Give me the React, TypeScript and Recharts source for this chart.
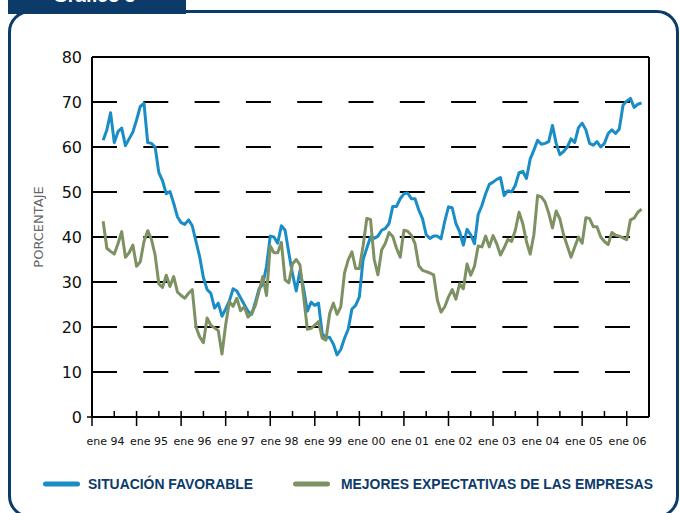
import { CartesianGrid, Label, Line, LineChart, ReferenceLine, XAxis, YAxis } from "recharts";

// monthly series, first point = abril 1994 (month index 3, counting from ene 94 = 0)
const START_MONTH = 3;

const favorable = [
  61.5, 63.8, 67.6, 61.0, 63.4, 64.2, 60.3, 61.8, 63.3, 66.0,
  69.0, 69.7, 61.0, 60.8, 60.0, 54.3, 52.5, 49.6, 50.1, 47.5,
  44.5, 43.2, 42.8, 43.8, 42.5, 39.0, 35.6, 31.0, 28.3, 27.5,
  24.2, 25.3, 22.4, 24.0, 25.8, 28.5, 28.0, 26.5, 25.0, 23.5,
  22.8, 25.5, 28.5, 29.5, 33.5, 40.2, 40.0, 38.6, 42.5, 41.5,
  36.5, 31.8, 28.0, 32.5, 28.5, 23.5, 25.5, 24.8, 25.3, 18.5,
  17.6, 17.7, 16.2, 13.8, 15.0, 17.5, 19.5, 24.0, 24.8, 26.7,
  35.0, 37.5, 40.0, 39.7, 40.2, 41.5, 41.9, 43.0, 46.8, 46.8,
  48.5, 49.6, 49.8, 48.5, 48.5, 46.0, 44.1, 40.5, 39.7, 40.2,
  40.2, 39.6, 43.5, 46.7, 46.5, 43.0, 41.2, 38.2, 41.7, 40.5,
  38.5, 45.0, 47.0, 49.6, 51.7, 52.2, 52.8, 53.2, 49.2, 50.3,
  50.0, 51.5, 54.3, 54.6, 53.0, 57.3, 59.3, 61.5, 60.6, 60.8,
  61.2, 64.8, 60.8, 58.3, 59.0, 60.0, 61.8, 61.0, 64.3, 65.3,
  63.8, 60.8, 60.4, 61.2, 60.0, 60.8, 63.0, 63.8, 63.0, 64.0,
  69.3, 70.2, 70.8, 68.8, 69.5, 69.8,
];

const expectativas = [
  43.5, 37.5, 36.8, 36.2, 38.5, 41.2, 35.5, 36.5, 38.2, 33.5,
  34.5, 39.0, 41.4, 39.5, 36.0, 29.6, 28.8, 31.5, 29.0, 31.2,
  27.8, 27.0, 26.4, 27.5, 28.3, 20.0, 17.8, 16.5, 22.0, 20.4,
  19.8, 19.2, 14.0, 20.5, 25.6, 24.6, 26.4, 23.6, 24.5, 22.2,
  23.0, 24.8, 28.0, 31.2, 27.0, 38.0, 36.5, 36.5, 38.8, 30.5,
  29.8, 34.0, 35.0, 33.8, 26.7, 19.5, 19.7, 20.4, 21.2, 17.5,
  17.1, 23.0, 25.3, 22.8, 24.5, 32.0, 34.9, 36.7, 33.0, 33.0,
  38.0, 44.1, 43.9, 35.0, 31.6, 37.1, 38.6, 41.0, 40.1, 37.5,
  35.5, 41.5, 41.3, 40.4, 38.5, 33.6, 32.6, 32.3, 32.0, 31.6,
  26.0, 23.3, 24.5, 26.7, 28.3, 26.2, 29.6, 28.5, 34.0, 31.5,
  33.5, 38.0, 37.8, 40.2, 37.8, 40.3, 38.5, 36.0, 37.6, 39.5,
  39.0, 41.5, 45.5, 43.0, 39.0, 36.2, 40.5, 49.2, 48.9, 47.8,
  45.3, 42.0, 45.8, 44.0, 40.5, 38.0, 35.5, 37.8, 40.0, 38.6,
  44.3, 44.1, 42.3, 42.3, 40.0, 39.0, 38.3, 41.0, 40.4, 40.2,
  39.8, 39.4, 43.8, 44.2, 45.5, 46.2,
];

const yearLabels = [
  "ene 94", "ene 95", "ene 96", "ene 97", "ene 98", "ene 99", "ene 00",
  "ene 01", "ene 02", "ene 03", "ene 04", "ene 05", "ene 06",
];

const yTicks = [0, 10, 20, 30, 40, 50, 60, 70, 80];

const series = [
  { key: "favorable", label: "SITUACIÓN FAVORABLE", color: "#1a8dc7" },
  { key: "expectativas", label: "MEJORES EXPECTATIVAS DE LAS EMPRESAS", color: "#7e9163" },
];

const NAVY = "#0c3b6a";

const data = favorable.map((v, i) => ({
  m: START_MONTH + i,
  favorable: v,
  expectativas: expectativas[i],
}));

// a tick every half year, labelled on the january ones
const xTicks = yearLabels.flatMap((_, i) => (i < yearLabels.length - 1 ? [i * 12, i * 12 + 6] : [i * 12]));

function MonthTick({ x, y, payload }: any) {
  const m = payload.value as number;
  if (m % 12 !== 0) {
    return <line x1={x} x2={x} y1={y - 6} y2={y} stroke="#000" strokeWidth={1.5} />;
  }
  const i = m / 12;
  return (
    <g>
      <line x1={x} x2={x} y1={y - 6} y2={y + 9} stroke="#000" strokeWidth={1.5} />
      <text
        x={x + 13.5 - 1.05 * i}
        y={y + 28}
        textAnchor="middle"
        fontFamily="DejaVu Sans"
        fontSize={11}
        fill="#111"
      >
        {yearLabels[i]}
      </text>
    </g>
  );
}

function ValueTick({ x, y, payload }: any) {
  return (
    <g>
      {payload.value === 0 && <line x1={x - 5} x2={x} y1={y} y2={y} stroke="#000" strokeWidth={1.5} />}
      <text x={x - 10} y={y} dy="0.36em" textAnchor="end" fontFamily="DejaVu Sans" fontSize={16} fill="#111">
        {payload.value}
      </text>
    </g>
  );
}

function AxisTitle({ viewBox }: any) {
  const cx = 38;
  const cy = viewBox.y + viewBox.height / 2 - 10;
  return (
    <text
      x={cx}
      y={cy}
      transform={`rotate(-90 ${cx} ${cy})`}
      textAnchor="middle"
      dominantBaseline="central"
      fontFamily="DejaVu Sans"
      fontSize={13}
      fill="#666"
    >
      PORCENTAJE
    </text>
  );
}

export default function App() {
  return (
    <div style={{ position: "absolute", left: 0, top: 0, width: 680, height: 513, overflow: "hidden", background: "#fff" }}>
      {/* marco y pestaña */}
      <div
        style={{
          position: "absolute",
          left: 8,
          top: 0,
          width: 178,
          height: 14,
          background: NAVY,
          overflow: "hidden",
        }}
      >
        <div
          style={{
            position: "absolute",
            left: 45,
            top: -15,
            color: "#fff",
            fontFamily: "Liberation Sans",
            fontWeight: 700,
            fontSize: 19,
          }}
        >
          Gráfico 3
        </div>
      </div>
      <div
        style={{
          position: "absolute",
          left: 8,
          top: 10,
          width: 671,
          height: 508,
          boxSizing: "border-box",
          border: `3px solid ${NAVY}`,
          borderRadius: 22,
        }}
      />

      <div style={{ position: "absolute", left: 0, top: 0 }}>
        <LineChart width={680} height={513} data={data} margin={{ top: 57, right: 31, bottom: 56, left: 0 }}>
          <CartesianGrid
            vertical={false}
            stroke="#000"
            strokeWidth={2}
            strokeDasharray="25 26.3"
          />
          <XAxis
            dataKey="m"
            type="number"
            domain={[0, 150]}
            ticks={xTicks}
            interval={0}
            height={40}
            tickSize={0}
            tickMargin={0}
            tickLine={false}
            axisLine={{ stroke: "#000", strokeWidth: 2 }}
            tick={<MonthTick />}
          />
          <YAxis
            type="number"
            domain={[0, 80]}
            ticks={yTicks}
            interval={0}
            width={92}
            tickSize={0}
            tickMargin={0}
            tickLine={false}
            axisLine={{ stroke: "#000", strokeWidth: 2 }}
            tick={<ValueTick />}
          >
            <Label content={<AxisTitle />} />
          </YAxis>
          <ReferenceLine y={80} stroke="#000" strokeWidth={2} />
          <ReferenceLine x={150} stroke="#000" strokeWidth={2} />
          {series.map((s) => (
            <Line
              key={s.key}
              type="linear"
              dataKey={s.key}
              stroke={s.color}
              strokeWidth={3}
              strokeLinejoin="round"
              dot={false}
              activeDot={false}
              isAnimationActive={false}
            />
          ))}
        </LineChart>
      </div>

      {/* leyenda */}
      <svg width={680} height={513} style={{ position: "absolute", left: 0, top: 0, pointerEvents: "none" }}>
        {series.map((s, i) => {
          const x0 = i === 0 ? 43 : 293;
          const tx = i === 0 ? 88 : 341;
          const tw = i === 0 ? 165 : 312;
          return (
            <g key={s.key}>
              <line x1={x0 + 2.5} x2={x0 + 34.5} y1={484} y2={484} stroke={s.color} strokeWidth={5} strokeLinecap="round" />
              <text
                x={tx}
                y={489}
                textLength={tw}
                lengthAdjust="spacingAndGlyphs"
                fontFamily="Liberation Sans"
                fontWeight={700}
                fontSize={14.5}
                fill={NAVY}
              >
                {s.label}
              </text>
            </g>
          );
        })}
      </svg>
    </div>
  );
}
